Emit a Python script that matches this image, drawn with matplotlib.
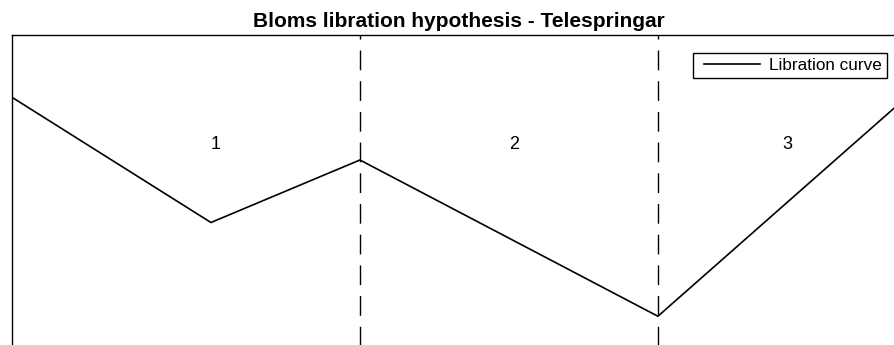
import matplotlib
matplotlib.use("Agg")
import matplotlib.pyplot as plt
from matplotlib.lines import Line2D
from matplotlib.legend_handler import HandlerLine2D

plt.rcParams['font.family'] = ['Liberation Sans', 'DejaVu Sans']

# Data
curve_x = [0, 4, 7, 13, 18]
curve_y = [0, -4, -2, -7, 0]
boundaries_x = [7, 13]
region_labels = ["1", "2", "3"]
region_label_x = [4, 10, 15.5]
region_label_y = [-1.5, -1.5, -1.5]
title_text = "Bloms libration hypothesis - Telespringar"
legend_label = "Libration curve"

W, H = 895, 345
fig = plt.figure(figsize=(W / 100, H / 100), dpi=100)

left_px, right_px = 12.3, 906.2
top_px, bottom_px = 35.0, 347.5
ax = fig.add_axes([left_px / W, 1 - bottom_px / H,
                   (right_px - left_px) / W, (bottom_px - top_px) / H])

ax.plot(curve_x, curve_y, color='black', lw=1.2, label=legend_label,
        solid_joinstyle='miter')
for bx in boundaries_x:
    ax.axvline(bx, color='black', lw=1.0, linestyle=(0, (14.2, 7.9)))

for lab, lx, ly in zip(region_labels, region_label_x, region_label_y):
    ax.text(lx, ly, lab, ha='left', va='center', fontsize=13)

ax.set_xlim(0, 18)
ax.set_ylim(-8, 2)
ax.set_xticks([])
ax.set_yticks([])
for s in ['left', 'top']:
    ax.spines[s].set_linewidth(1.0)
for s in ['right', 'bottom']:
    ax.spines[s].set_visible(False)

ax.set_title(title_text, fontsize=15, fontweight='bold', pad=6)

leg = ax.legend(loc='upper right', bbox_to_anchor=(887 / W, 1 - 53 / H),
                bbox_transform=fig.transFigure, borderaxespad=0,
                fontsize=12.3, fancybox=False, framealpha=1, edgecolor='black',
                borderpad=0.3, handlelength=3.97, handletextpad=0.18,
                handler_map={Line2D: HandlerLine2D(numpoints=2, marker_pad=0.35)})
leg.get_frame().set_linewidth(1.0)

fig.savefig("out.png", dpi=100)
